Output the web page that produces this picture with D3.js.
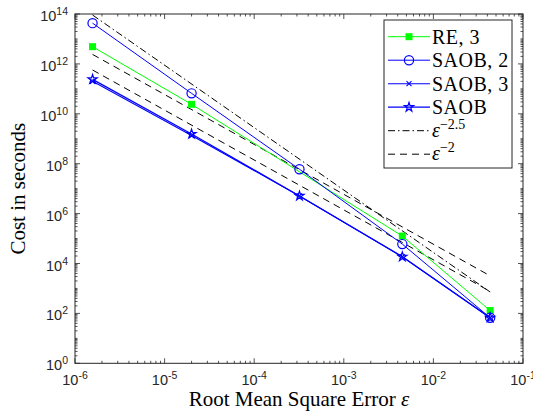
<!DOCTYPE html>
<html>
<head>
<meta charset="utf-8">
<script src="https://cdn.jsdelivr.net/npm/d3@7"></script>
<style>
  body { margin: 0; background: #fff; }
  svg { display: block; }
  .tick text { font-family: "Liberation Sans", Arial, sans-serif; fill: #262626; }
</style>
</head>
<body>
<div id="chart"></div>
<script>
// data
const epsAll = [1.57e-6, 2.0e-5, 3.2e-4, 4.5e-3, 4.3e-2];
const epsRE = [1.57e-6, 2.0e-5, 4.5e-3, 4.3e-2];
const costRE3 = [4.9e12, 2.4e10, 1.26e5, 1.3e2];
const costSAOB2 = [4.3e13, 6.6e10, 6.0e7, 6.0e4, 67];
const costSAOB3 = [2.0e11, 1.35e9, 5.1e6, 1.87e4, 67];
const costSAOB = [2.4e11, 1.55e9, 5.1e6, 1.87e4, 67];
// reference slopes, end points
const epsRef = [1.57e-6, 4.3e-2];
const refRate25 = [9.1e13, 7.2e2];
const refRate2a = [2.4e12, 3.2e3];
const refRate2b = [5.7e11, 7.6e2];

const xTicks = [1e-6, 1e-5, 1e-4, 1e-3, 1e-2, 1e-1];
const yTicks = [1, 1e2, 1e4, 1e6, 1e8, 1e10, 1e12, 1e14];

const W = 533, H = 414;
const margin = { top: 14, right: 10, bottom: 51, left: 75 };
const width = 448, height = 349.3;

const svg = d3.select("#chart").append("svg").attr("width", W).attr("height", H);
const g = svg.append("g").attr("transform", `translate(${margin.left},${margin.top})`);

const x = d3.scaleLog().domain([1e-6, 1e-1]).range([0, width]);
const y = d3.scaleLog().domain([1, 1e14]).range([height, 0]);

// minor ticks
function minors(lo, hi, majors) {
  const out = [];
  for (let e = Math.log10(lo); e < Math.log10(hi); e++) {
    for (let k = 1; k < 10; k++) {
      const v = k * Math.pow(10, e);
      if (!majors.some((m) => Math.abs(m - v) / v < 1e-9)) out.push(v);
    }
  }
  return out;
}
const xMinor = minors(1e-6, 1e-1, xTicks);
const yMinor = minors(1, 1e14, yTicks);

const axisColor = "#262626";
const tk = g.append("g").attr("stroke", axisColor).attr("stroke-width", 0.8);
function tickMarks(vals, len) {
  vals.forEach((v) => {
    const px = x(v);
    tk.append("line").attr("x1", px).attr("x2", px).attr("y1", height).attr("y2", height - len);
    tk.append("line").attr("x1", px).attr("x2", px).attr("y1", 0).attr("y2", len);
  });
}
function tickMarksY(vals, len) {
  vals.forEach((v) => {
    const py = y(v);
    tk.append("line").attr("y1", py).attr("y2", py).attr("x1", 0).attr("x2", len);
    tk.append("line").attr("y1", py).attr("y2", py).attr("x1", width).attr("x2", width - len);
  });
}
tickMarks(xTicks, 5);
tickMarks(xMinor, 2.5);
tickMarksY(yTicks, 5);
tickMarksY(yMinor, 2.5);

// tick labels
const xl = g.append("g").attr("class", "tick");
xTicks.forEach((v) => {
  const t = xl.append("text")
    .attr("x", x(v))
    .attr("y", height + 22)
    .attr("text-anchor", "middle")
    .style("font-size", "14.5px");
  t.append("tspan").text("10");
  t.append("tspan").attr("dy", "-6").style("font-size", "10.5px").text(Math.round(Math.log10(v)));
});
const yl = g.append("g").attr("class", "tick");
yTicks.forEach((v) => {
  const t = yl.append("text")
    .attr("x", -7)
    .attr("y", y(v) + 7)
    .attr("text-anchor", "end")
    .style("font-size", "14.5px");
  t.append("tspan").text("10");
  t.append("tspan").attr("dy", "-6").style("font-size", "10.5px").text(Math.round(Math.log10(v)));
});

// box
g.append("rect")
  .attr("width", width).attr("height", height)
  .attr("fill", "none").attr("stroke", axisColor).attr("stroke-width", 1);

const line = d3.line().x((d) => x(d[0])).y((d) => y(d[1]));
const zip = (a, b) => a.map((v, i) => [v, b[i]]);

// reference lines
g.append("path").attr("d", line(zip(epsRef, refRate25)))
  .attr("fill", "none").attr("stroke", "#000").attr("stroke-width", 1)
  .attr("stroke-dasharray", "7,3,1.5,3");
[refRate2a, refRate2b].forEach((r) => {
  g.append("path").attr("d", line(zip(epsRef, r)))
    .attr("fill", "none").attr("stroke", "#000").attr("stroke-width", 1)
    .attr("stroke-dasharray", "7,5");
});

const green = "#00ff00", blue = "#0000ff";
const star = d3.symbol().type(d3.symbolStar).size(26);
function marker(sel, type, color) {
  if (type === "square") {
    sel.append("rect").attr("x", -3.5).attr("y", -3.5).attr("width", 7).attr("height", 7).attr("fill", color);
  } else if (type === "circle") {
    sel.append("circle").attr("r", 4.6).attr("fill", "none").attr("stroke", color).attr("stroke-width", 1.2);
  } else if (type === "cross") {
    sel.append("path").attr("d", "M-2.5,-2.5L2.5,2.5M-2.5,2.5L2.5,-2.5").attr("stroke", color).attr("stroke-width", 1.1);
  } else if (type === "star") {
    sel.append("path").attr("d", star()).attr("fill", "none").attr("stroke", color).attr("stroke-width", 1.2);
  }
}

const series = [
  { name: "RE, 3", eps: epsRE, cost: costRE3, color: green, lw: 1, type: "square" },
  { name: "SAOB, 2", eps: epsAll, cost: costSAOB2, color: blue, lw: 1, type: "circle" },
  { name: "SAOB, 3", eps: epsAll, cost: costSAOB3, color: blue, lw: 1.1, type: "cross" },
  { name: "SAOB", eps: epsAll, cost: costSAOB, color: blue, lw: 1.3, type: "star" },
];

series.forEach((s) => {
  g.append("path").attr("d", line(zip(s.eps, s.cost)))
    .attr("fill", "none").attr("stroke", s.color).attr("stroke-width", s.lw);
  zip(s.eps, s.cost).forEach((d) => {
    const m = g.append("g").attr("transform", `translate(${x(d[0])},${y(d[1])})`);
    marker(m, s.type, s.color);
  });
});

// legend
const lg = svg.append("g").attr("transform", "translate(384,20)");
lg.append("rect").attr("width", 128).attr("height", 148)
  .attr("fill", "#fff").attr("stroke", axisColor).attr("stroke-width", 1);
const rowY = (i) => 16.7 + i * 23.5;
const serif = "'Liberation Serif', 'Times New Roman', serif";
series.forEach((s, i) => {
  const r = lg.append("g").attr("transform", `translate(0,${rowY(i)})`);
  r.append("line").attr("x1", 4).attr("x2", 46).attr("stroke", s.color).attr("stroke-width", s.lw);
  marker(r.append("g").attr("transform", "translate(25,0)"), s.type, s.color);
  r.append("text").attr("x", 48).attr("y", 7).style("font-family", serif)
    .style("font-size", "20px").style("letter-spacing", "0.5px").text(s.name);
});
const refs = [
  { dash: "7,3,1.5,3", exp: "\u22122.5" },
  { dash: "7,5", exp: "\u22122" },
];
refs.forEach((rf, i) => {
  const r = lg.append("g").attr("transform", `translate(0,${rowY(i + 4)})`);
  r.append("line").attr("x1", 4).attr("x2", 46).attr("stroke", "#000")
    .attr("stroke-width", 1).attr("stroke-dasharray", rf.dash);
  const t = r.append("text").attr("x", 48).attr("y", 6).style("font-family", serif).style("font-size", "20px");
  t.append("tspan").style("font-style", "italic").text("\u03b5");
  t.append("tspan").attr("dy", -8).style("font-size", "14px").text(rf.exp);
});

// axis titles
const xt = svg.append("text")
  .attr("x", margin.left + width / 2)
  .attr("y", 406)
  .attr("text-anchor", "middle")
  .style("font-family", serif).style("font-size", "21px");
xt.append("tspan").text("Root Mean Square Error ");
xt.append("tspan").style("font-style", "italic").text("\u03b5");

svg.append("text")
  .attr("transform", `translate(25,${margin.top + height / 2}) rotate(-90)`)
  .attr("text-anchor", "middle")
  .style("font-family", serif).style("font-size", "21px")
  .text("Cost in seconds");
</script>
</body>
</html>
